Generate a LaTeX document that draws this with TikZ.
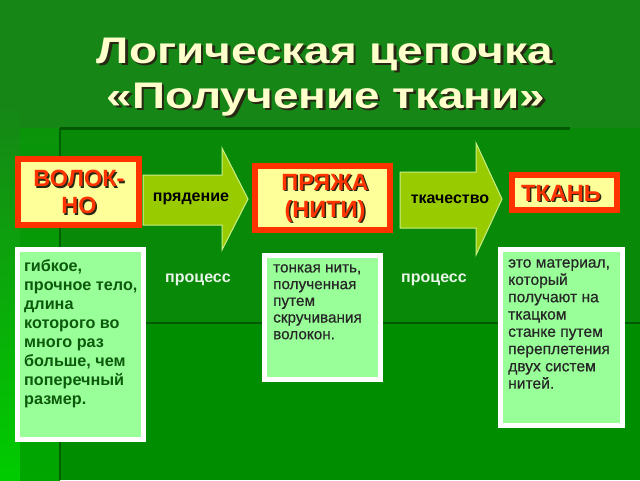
\documentclass[tikz,border=0pt]{standalone}
\usepackage{fontspec}
\setmainfont{Liberation Sans}
\newfontfamily\semibold{Liberation Sans}[FakeBold=0.6]
\definecolor{bgtop}{RGB}{22,134,22}
\definecolor{bgmid}{RGB}{8,138,8}
\definecolor{bglow}{RGB}{0,142,0}
\definecolor{stripB}{RGB}{0,204,0}
\definecolor{bandA}{RGB}{10,148,10}
\definecolor{bandB}{RGB}{0,166,0}
\definecolor{darkline}{RGB}{0,88,0}
\definecolor{titlecol}{RGB}{255,255,204}
\definecolor{redcol}{RGB}{255,51,0}
\definecolor{yellowfill}{RGB}{255,255,153}
\definecolor{descfill}{RGB}{153,255,153}
\definecolor{desctxt}{RGB}{12,90,12}
\definecolor{arrowfill}{RGB}{153,204,0}
\definecolor{arrowline}{RGB}{204,238,136}
\definecolor{shadowcol}{RGB}{40,40,20}
\definecolor{proccol}{RGB}{232,245,232}
\newcommand\shtxt[3]{\leavevmode\rlap{\hspace{#3}\raisebox{-#3}{\textcolor{shadowcol}{#2}}}\textcolor{#1}{#2}}
\tikzset{
  redbox/.style={draw=redcol, line width=6pt, fill=yellowfill, inner sep=0pt, align=center},
  descbox/.style={draw=white, line width=5pt, fill=descfill, inner sep=0pt},
  blockarrow/.style={fill=arrowfill, draw=arrowline, line width=1pt},
  arrowlabel/.style={font=\bfseries\fontsize{16}{18}\selectfont, text=black, inner sep=0pt},
  proclabel/.style={font=\bfseries\fontsize{16}{18}\selectfont, text=proccol, inner sep=0pt},
  redtext/.style={font=\bfseries\fontsize{23.5}{28}\selectfont},
  titletext/.style={anchor=base, inner sep=0pt, font=\bfseries\fontsize{37}{40}\selectfont},
}
\begin{document}
\begin{tikzpicture}[x=1pt,y=-1pt]
\useasboundingbox (0,0) rectangle (640,480);
% background
\fill[bgtop] (0,0) rectangle (640,480);
\shade[top color=bgtop, bottom color=stripB] (0,100) rectangle (20,480);
\shade[top color=bandA, bottom color=bandB] (20,128) rectangle (60,480);
\fill[bgmid] (60,128) rectangle (640,323);
\fill[bglow] (60,323) rectangle (640,480);
\draw[darkline, line width=1.2pt] (60,323) -- (640,323);
\draw[darkline!80!bgmid, line width=1.2pt] (60,128) -- (60,480);
\draw[darkline, line width=3pt] (60,128) -- (570,128);
% title
\node[titletext] (t1) at (325,63) {\scalebox{1.24}[1]{\shtxt{titlecol}{Логическая цепочка}{2pt}}};
\node[titletext] (t2) at (326,108) {\scalebox{1.24}[1]{\shtxt{titlecol}{«Получение ткани»}{2pt}}};
% block arrows
\draw[blockarrow] (143,175) -- (222,175) -- (222,148) -- (248,199) -- (222,250) -- (222,225) -- (143,225) -- cycle;
\draw[blockarrow] (400,172) -- (476,172) -- (476,143) -- (502,199) -- (476,255) -- (476,228) -- (400,228) -- cycle;
\node[arrowlabel] (l1) at (191,199) {прядение};
\node[arrowlabel] (l2) at (450,199) {ткачество};
% red boxes
\node[redbox, minimum width=121pt, minimum height=66pt] (volokno) at (78.5,192) {};
\node[redtext, align=center, inner sep=0pt] (voloknoT) at (79,193) {\shtxt{redcol}{ВОЛОК-}{1.5pt}\\[-1pt]\shtxt{redcol}{НО}{1.5pt}};
\node[redbox, minimum width=135pt, minimum height=64pt] (pryazha) at (322.5,198) {};
\node[redtext, align=center, inner sep=0pt] (pryazhaT) at (325,199) {\shtxt{redcol}{ПРЯЖА}{1.5pt}\\[-1pt]\shtxt{redcol}{(НИТИ)}{1.5pt}};
\node[redbox, minimum width=105pt, minimum height=35pt] (tkan) at (564.5,192.5) {};
\node[redtext, inner sep=0pt] (tkanT) at (561,194) {\shtxt{redcol}{ТКАНЬ}{1.5pt}};
% process labels
\node[proclabel] (p1) at (198,280) {процесс};
\node[proclabel] (p2) at (434,280) {процесс};
% description boxes
\node[descbox, minimum width=126pt, minimum height=190pt] (d1) at (80.5,344.5) {};
\node[anchor=north west, inner sep=0pt, align=left, text=desctxt, font=\bfseries\fontsize{16.2}{19}\selectfont] (d1T) at (24,259)
 {гибкое,\\прочное тело,\\длина\\которого во\\много раз\\больше, чем\\поперечный\\размер.};
\node[descbox, minimum width=116pt, minimum height=124pt] (d2) at (322.5,317.5) {};
\node[anchor=north west, inner sep=0pt, align=left, text=black!85, font=\semibold\fontsize{15.3}{16.7}\selectfont] (d2T) at (273,264)
 {тонкая нить,\\полученная\\путем\\скручивания\\волокон.};
\node[descbox, minimum width=122pt, minimum height=176pt] (d3) at (561.5,337.5) {};
\node[anchor=north west, inner sep=0pt, align=left, text=black!85, font=\semibold\fontsize{15.6}{17.3}\selectfont] (d3T) at (508,259)
 {это материал,\\который\\получают на\\ткацком\\станке путем\\переплетения\\двух систем\\нитей.};
\end{tikzpicture}
\end{document}
